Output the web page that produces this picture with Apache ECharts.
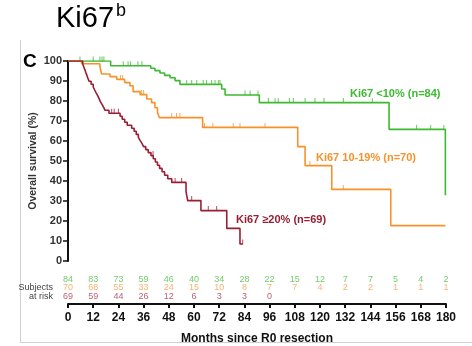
<!DOCTYPE html>
<html><head><meta charset="utf-8">
<script src="https://cdn.jsdelivr.net/npm/echarts@6/dist/echarts.min.js"></script>
<style>html,body{margin:0;padding:0;background:#fff}#c{width:472px;height:346px}</style>
</head><body><div id="c"></div>
<script>
// ---- data ----
const months = [0,12,24,36,48,60,72,84,96,108,120,132,144,156,168,180];
const greenName = 'Ki67 <10% (n=84)';
const orangeName = 'Ki67 10-19% (n=70)';
const redName = 'Ki67 \u226520% (n=69)';
const greenSteps = [[0,100],[20.3,97.6],[39.4,96.4],[41.4,95.2],[43.8,94],[46,92.8],[48.6,91.6],[51,90.2],[53.3,88.3],[73.2,86],[74.8,83],[91.1,79.2],[152.9,65.8],[179.7,32.9]];
const greenCensor = [[5.7,100],[12,100],[15.2,100],[16.2,100],[17.1,100],[26.3,97.6],[28.6,97.6],[29.8,97.6],[33.3,97.6],[35.2,97.6],[56.5,88.3],[58.9,88.3],[61.3,88.3],[64.4,88.3],[66,88.3],[68.4,88.3],[70,88.3],[71.6,88.3],[72.4,88.3],[84.3,83],[86.7,83],[90.5,83],[95.4,79.2],[98.6,79.2],[100.1,79.2],[105.4,79.2],[107.3,79.2],[112.9,79.2],[117.6,79.2],[121.9,79.2],[131.1,79.2],[144.9,79.2],[166,65.8],[172.7,65.8],[179,65.8]];
const orangeSteps = [[0,100],[6.5,98.6],[15.2,97.1],[16,93.5],[20,92.2],[23.2,90.8],[27,89.2],[29.5,87.6],[31,84.7],[34.3,83.2],[37.5,81],[39.8,79.2],[41.4,76.6],[42.6,74.3],[43.5,71.7],[64.1,66.8],[109.4,57.2],[112.9,47.7],[125.6,35.8],[153.7,17.7],[179.7,17.7]];
const orangeCensor = [[25,90.8],[26,90.8],[35,83.2],[36,83.2],[49.4,71.7],[51.7,71.7],[53.3,71.7],[65,66.8],[69,66.8],[78.7,66.8],[81.9,66.8],[93.8,66.8],[115.2,47.7],[131.1,35.8]];
const redSteps = [[0,100],[7,98.6],[7.5,97.1],[8,95.7],[8.5,94.2],[9,92.8],[9.5,91.3],[10,89.9],[11,88.4],[12,87],[12.7,85.5],[13.4,84.1],[14.2,82.6],[14.8,81.2],[15.4,79.7],[16.2,78.3],[17,76.8],[17.6,75.4],[19.5,73.9],[24.8,72.4],[25.8,70.9],[27,69.4],[28.2,67.9],[30.3,66.4],[31.5,64.9],[32.5,63.3],[33.5,61.8],[34.3,60.3],[35.2,58.8],[36,57.2],[37,55.7],[38.2,54.2],[39.5,52.7],[40.6,51.1],[41.6,49.5],[42.6,47.9],[43.6,46.3],[44.8,44.6],[46,42.9],[47.5,41.1],[49.4,39.3],[56.2,34.7],[57,30.2],[63.3,25.2],[75.6,16.3],[81.9,8.5],[83.2,8.5]];
const redCensor = [[20.8,73.9],[22,73.9],[24,73.9],[40.5,52.7],[51,39.3],[54.1,39.3],[58.9,30.2],[66.8,25.2],[70.8,25.2],[83.2,8.5]];
const riskGreen = [84,83,73,59,46,40,34,28,22,15,12,7,7,5,4,2];
const riskOrange = [70,68,55,33,24,15,10,8,7,7,4,2,2,1,1,1];
const riskRed = [69,59,44,26,12,6,3,3,0];
const riskRowLabels = ['', 'Subjects', 'at risk'];
const yTicks = [0,100,10];
const xTicks = [0,180,12];

// ---- styles ----
const GREEN = '#3dba30', ORANGE = '#f7922a', RED = '#9a1d33';
const FONT = 'Liberation Sans, Arial, sans-serif';

function riskData(arr, row){ return arr.map((v,i)=>[months[i], row, v]); }
function censor(data, color){
  return {type:'scatter', xAxisIndex:0, yAxisIndex:0, data:data, symbol:'rect', symbolSize:[1,5], symbolOffset:[0,-2],
    itemStyle:{color:color}, silent:true, z:3};
}
function step(data, color){
  return {type:'line', xAxisIndex:0, yAxisIndex:0, data:data, step:'end', showSymbol:false, symbol:'none',
    lineStyle:{color:color, width:1.6}, silent:true, z:4};
}
function risk(arr,row,color){
  return {type:'scatter', xAxisIndex:1, yAxisIndex:1, data:riskData(arr,row), symbolSize:1,
    itemStyle:{color:'transparent'}, silent:true,
    label:{show:true, position:'inside', formatter:p=>String(p.value[2]), color:color, fontSize:9, fontFamily:FONT}};
}

const chart = echarts.init(document.getElementById('c'), null, {renderer:'canvas'});
chart.setOption({
  animation:false,
  backgroundColor:'#fff',
  grid:[
    {left:68, right:26, top:61, bottom:85},
    {left:68, right:26, top:275.5, bottom:37.5}
  ],
  xAxis:[
    {gridIndex:0, type:'value', min:xTicks[0], max:xTicks[1], interval:xTicks[2], show:false},
    {gridIndex:1, type:'value', min:xTicks[0], max:xTicks[1], interval:xTicks[2], offset:3.5,
      axisLine:{show:true, onZero:false, lineStyle:{color:'#111', width:2}},
      axisTick:{show:true, length:4, lineStyle:{color:'#111', width:2}},
      axisLabel:{color:'#111', fontSize:12, fontWeight:'bold', fontFamily:FONT, margin:8},
      splitLine:{show:false},
      name:'Months since R0 resection', nameLocation:'middle', nameGap:29,
      nameTextStyle:{color:'#111', fontSize:12, fontWeight:'bold', fontFamily:FONT}}
  ],
  yAxis:[
    {gridIndex:0, type:'value', min:yTicks[0], max:yTicks[1], interval:yTicks[2],
      axisLine:{show:true, lineStyle:{color:'#111', width:2}},
      axisTick:{show:true, length:5, lineStyle:{color:'#111', width:1.5}},
      axisLabel:{color:'#333', fontSize:11, fontWeight:'bold', fontFamily:FONT, margin:6},
      splitLine:{show:false},
      name:'Overall survival (%)', nameLocation:'middle', nameGap:29, nameRotate:90, nameMoveOverlap:false,
      nameTextStyle:{color:'#333', fontSize:10.5, fontWeight:'bold', fontFamily:FONT}},
    {gridIndex:1, type:'category', inverse:true, data:riskRowLabels,
      axisLine:{show:false}, axisTick:{show:false},
      axisLabel:{interval:0, color:'#444', fontSize:9, fontFamily:FONT, margin:15}}
  ],
  series:[
    step(greenSteps, GREEN), censor(greenCensor, GREEN),
    step(orangeSteps, ORANGE), censor(orangeCensor, ORANGE),
    step(redSteps, RED), censor(redCensor, RED),
    risk(riskGreen,0,'#4cbf45'), risk(riskOrange,1,'#f5a04a'), risk(riskRed,2,'#a63a4b')
  ],
  graphic:[
    {type:'line', shape:{x1:20.5,y1:40,x2:20.5,y2:342.5}, style:{stroke:'#d0d0d0', lineWidth:1}, silent:true},
    {type:'line', shape:{x1:20,y1:342.5,x2:472,y2:342.5}, style:{stroke:'#d0d0d0', lineWidth:1}, silent:true},
    {type:'text', left:56, top:4, style:{text:'Ki67', font:'29px '+FONT, fill:'#000'}},
    {type:'text', left:116, top:2, style:{text:'b', font:'18px '+FONT, fill:'#000'}},
    {type:'text', left:23, top:52, style:{text:'C', font:'bold 19px '+FONT, fill:'#000'}},
    {type:'text', left:350, top:88, style:{text:greenName, font:'bold 11px '+FONT, fill:GREEN}},
    {type:'text', left:316, top:152, style:{text:orangeName, font:'bold 11px '+FONT, fill:ORANGE}},
    {type:'text', left:236, top:214, style:{text:redName, font:'bold 11px '+FONT, fill:RED}}
  ]
});
</script></body></html>
